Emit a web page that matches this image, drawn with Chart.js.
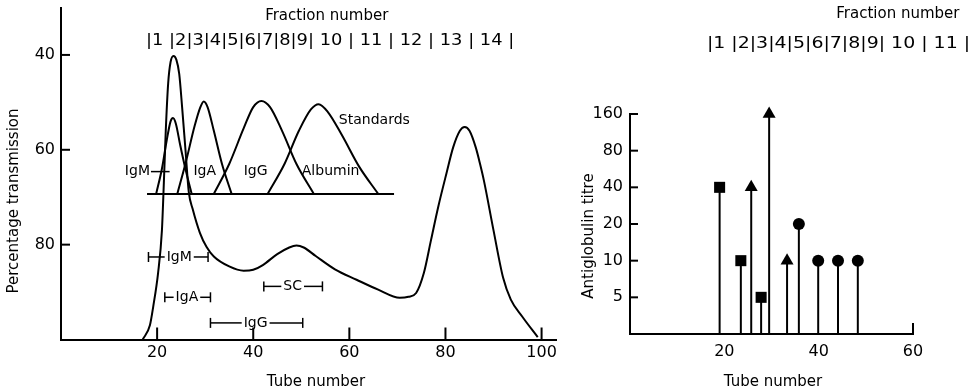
<!DOCTYPE html>
<html>
<head>
<meta charset="utf-8">
<script src="https://cdn.jsdelivr.net/npm/chart.js@4.4.0/dist/chart.umd.min.js"></script>
<style>
  body { margin: 0; background: #fff; }
  #wrap { position: relative; width: 972px; height: 392px; }
  canvas { position: absolute; top: 0; }
  #left { left: 0; }
  #right { left: 560px; }
</style>
</head>
<body>
<div id="wrap">
  <canvas id="left" width="560" height="392"></canvas>
  <canvas id="right" width="412" height="392"></canvas>
</div>
<script>
// ---- left panel: elution profile (tube number vs % transmission) ----
const profileTube  = [17, 18.5, 19.2, 20.2, 21, 21.4, 21.8, 22.3, 22.8, 23.4, 24, 24.6, 25.2, 25.9, 26.6, 27.4, 28.9, 30.3, 31.8, 35, 38, 40, 42, 45, 47.5, 49, 50.5, 53, 57, 61.5, 66, 70.5, 72.3, 73.9, 75.5, 77, 78.5, 80.2, 81.6, 83, 84, 85, 86.3, 87.2, 88, 90, 92, 93.6, 96, 99.2]
const profileTrans = [100, 97, 93, 86, 77, 67, 56, 46, 41.5, 40.2, 41, 44, 51, 60, 69, 72.5, 77.5, 80.5, 82.5, 84.6, 85.5, 85.3, 84.3, 82, 80.6, 80.2, 80.6, 82.4, 85.2, 87.4, 89.5, 91.2, 91, 90.2, 86, 79, 72, 65, 59.5, 56, 55.2, 56, 59.5, 63, 66.5, 77, 87, 91.6, 95.2, 99.5]

// standards (run separately, drawn on their own baseline)
const stdBase = 69.3
const stdBaseFrom = 17.9
const stdBaseTo = 69.3
const igmStdTube  = [19.8, 21, 22, 22.8, 23.3, 23.9, 24.8, 26, 27.2]
const igmStdTrans = [69.3, 64, 58, 54, 53.3, 54.5, 59, 64.5, 69.3]
const igaStdTube  = [24.2, 26, 27.8, 29, 29.7, 30.5, 31.8, 33.5, 35.5]
const igaStdTrans = [69.3, 62.5, 55, 51, 49.8, 51, 56, 63, 69.3]
const iggStdTube  = [31.8, 35, 38, 40, 41.7, 43.5, 46, 49, 52.6]
const iggStdTrans = [69.3, 63, 55.5, 51, 49.7, 51, 56, 63, 69.3]
const albStdTube  = [43, 46.5, 49.5, 52, 53.6, 55.5, 58.5, 62, 66]
const albStdTrans = [69.3, 63, 56, 51.5, 50.4, 52, 57, 63.5, 69.3]

const stdNames = ['IgM', 'IgA', 'IgG', 'Albumin']
const stdLabelTube = [15.9, 29.9, 40.5, 56.1]
const stdLabelTrans = 64.6

// ranges where each protein was found
const rangeNames = ['IgM', 'IgA', 'SC', 'IgG']
const rangeFrom  = [18.2, 21.6, 42.2, 31.1]
const rangeTo    = [30.6, 31.1, 54.4, 50.3]
const rangeLevel = [82.6, 91.1, 88.8, 96.5]
const rangeText  = [24.6, 26.2, 48.2, 40.5]

const leftXTicks = [20, 40, 60, 80, 100]
const leftYTicks = [40, 60, 80]

// ---- right panel: antiglobulin titre per tube ----
const squareTube = [19, 23.5, 27.8]
const squareTitre = [40, 10, 5]
const triTube = [25.7, 29.5, 33.3]
const triTitre = [40, 160, 10]
const dotTube = [35.8, 39.9, 44.1, 48.3]
const dotTitre = [20, 10, 10, 10]

const rightXTicks = [20, 40, 60]
const rightYTicks = [5, 10, 20, 40, 80, 160]

const fractionRowLeft = '|1 |2|3|4|5|6|7|8|9| 10 | 11 | 12 | 13 | 14 |'
const fractionRowRight = '|1 |2|3|4|5|6|7|8|9| 10 | 11 |'

const FONT = 'DejaVu Sans'

function pts(xs, ys) {
  return xs.map((x, i) => ({ x: x, y: ys[i] }))
}

function line(ctx, x1, y1, x2, y2) {
  ctx.beginPath()
  ctx.moveTo(x1, y1)
  ctx.lineTo(x2, y2)
  ctx.stroke()
}

// draw a string stretched between two x positions
function fitText(ctx, text, x1, x2, y) {
  let w = ctx.measureText(text).width
  ctx.save()
  ctx.translate(x1, y)
  ctx.scale((x2 - x1) / w, 1)
  ctx.textAlign = 'left'
  ctx.fillText(text, 0, 0)
  ctx.restore()
}

// no extra room for end labels, the chart area is set by padding
function noPad(s) {
  s.paddingTop = 0
  s.paddingBottom = 0
  s.paddingLeft = 0
  s.paddingRight = 0
}

const inwardTicks = {
  id: 'inwardTicks',
  afterDraw(chart, args, opts) {
    const ctx = chart.ctx
    const area = chart.chartArea
    ctx.save()
    ctx.strokeStyle = '#000'
    ctx.lineWidth = 2
    opts.x.forEach(v => {
      let px = chart.scales.x.getPixelForValue(v)
      line(ctx, px, area.bottom, px, area.bottom - opts.xLen)
    })
    opts.y.forEach(v => {
      let py = chart.scales.y.getPixelForValue(v)
      line(ctx, area.left - 1, py, area.left + opts.yLen, py)
    })
    ctx.restore()
  }
}

const leftNotes = {
  id: 'leftNotes',
  afterDraw(chart) {
    const ctx = chart.ctx
    const xs = chart.scales.x, ys = chart.scales.y
    ctx.save()
    ctx.fillStyle = '#000'
    ctx.strokeStyle = '#000'
    ctx.textBaseline = 'middle'

    // standards labels
    ctx.font = '14px ' + FONT
    ctx.textAlign = 'center'
    stdNames.forEach((n, i) => {
      ctx.fillText(n, xs.getPixelForValue(stdLabelTube[i]), ys.getPixelForValue(stdLabelTrans))
    })
    ctx.lineWidth = 1.5
    let igmW = ctx.measureText('IgM').width
    let ly = ys.getPixelForValue(stdLabelTrans)
    line(ctx, xs.getPixelForValue(stdLabelTube[0]) + igmW / 2 + 1, ly, xs.getPixelForValue(22.6), ly)
    ctx.fillText('Standards', xs.getPixelForValue(65.2), ys.getPixelForValue(53.7))

    // elution ranges
    rangeNames.forEach((n, i) => {
      let x1 = xs.getPixelForValue(rangeFrom[i])
      let x2 = xs.getPixelForValue(rangeTo[i])
      let y = ys.getPixelForValue(rangeLevel[i])
      let tx = xs.getPixelForValue(rangeText[i])
      let tw = ctx.measureText(n).width
      line(ctx, x1, y, tx - tw / 2 - 2, y)
      line(ctx, tx + tw / 2 + 2, y, x2, y)
      line(ctx, x1, y - 5, x1, y + 5)
      line(ctx, x2, y - 5, x2, y + 5)
      ctx.fillText(n, tx, y)
    })

    // fraction numbers
    ctx.font = '15px ' + FONT
    ctx.fillText('Fraction number', xs.getPixelForValue(55.3), 16)
    ctx.font = '16px ' + FONT
    fitText(ctx, fractionRowLeft, xs.getPixelForValue(17.7), xs.getPixelForValue(94.3), 41)

    // axis titles
    ctx.font = '15px ' + FONT
    ctx.textAlign = 'center'
    ctx.fillText('Tube number', 316, 382)
    ctx.translate(14, 201)
    ctx.rotate(-Math.PI / 2)
    ctx.fillText('Percentage transmission', 0, 0)
    ctx.restore()
  }
}

const stems = {
  id: 'stems',
  beforeDatasetsDraw(chart) {
    const ctx = chart.ctx
    const bottom = chart.chartArea.bottom
    ctx.save()
    ctx.strokeStyle = '#000'
    ctx.lineWidth = 2
    chart.data.datasets.forEach((ds, i) => {
      chart.getDatasetMeta(i).data.forEach(el => {
        line(ctx, el.x, el.y, el.x, bottom)
      })
    })
    ctx.restore()
  }
}

const rightNotes = {
  id: 'rightNotes',
  afterDraw(chart) {
    const ctx = chart.ctx
    const xs = chart.scales.x
    ctx.save()
    ctx.fillStyle = '#000'
    ctx.textBaseline = 'middle'
    ctx.textAlign = 'center'
    ctx.font = '15px ' + FONT
    ctx.fillText('Fraction number', xs.getPixelForValue(56.8), 14)
    ctx.font = '16px ' + FONT
    fitText(ctx, fractionRowRight, xs.getPixelForValue(16.3), xs.getPixelForValue(72.1), 44)
    ctx.font = '15px ' + FONT
    ctx.fillText('Tube number', 213, 382)
    ctx.translate(29, 236)
    ctx.rotate(-Math.PI / 2)
    ctx.fillText('Antiglobulin titre', 0, 0)
    ctx.restore()
  }
}

function curve(xs, ys) {
  return {
    data: pts(xs, ys),
    showLine: true,
    borderColor: '#000',
    borderWidth: 2,
    pointRadius: 0,
    cubicInterpolationMode: 'monotone',
    clip: false
  }
}

const tickFont = { family: FONT, size: 16 }

new Chart(document.getElementById('left'), {
  type: 'scatter',
  data: {
    datasets: [
      curve(profileTube, profileTrans),
      curve(igmStdTube, igmStdTrans),
      curve(igaStdTube, igaStdTrans),
      curve(iggStdTube, iggStdTrans),
      curve(albStdTube, albStdTrans),
      curve([stdBaseFrom, stdBaseTo], [stdBase, stdBase])
    ]
  },
  options: {
    responsive: false,
    animation: false,
    devicePixelRatio: 1,
    layout: { padding: { top: 7.5, right: 4, left: 0, bottom: 0 } },
    plugins: {
      legend: { display: false },
      tooltip: { enabled: false },
      inwardTicks: { x: leftXTicks, y: leftYTicks, xLen: 12, yLen: 9 }
    },
    scales: {
      x: {
        type: 'linear', min: 0, max: 103,
        afterBuildTicks: s => { s.ticks = leftXTicks.map(v => ({ value: v })) },
        afterFit: s => { s.height = 52.5; noPad(s) },
        grid: { display: false, drawTicks: false },
        border: { display: true, color: '#000', width: 2 },
        ticks: { color: '#000', font: tickFont, padding: 4, maxRotation: 0 }
      },
      y: {
        type: 'linear', min: 30, max: 100, reverse: true,
        afterBuildTicks: s => { s.ticks = leftYTicks.map(v => ({ value: v })) },
        afterFit: s => { s.width = 61; noPad(s) },
        grid: { display: false, drawTicks: false },
        border: { display: true, color: '#000', width: 2 },
        ticks: { color: '#000', font: tickFont, padding: 6 }
      }
    }
  },
  plugins: [inwardTicks, leftNotes]
})

function markers(xs, ys, style, r) {
  return {
    data: pts(xs, ys),
    pointStyle: style,
    pointRadius: r,
    backgroundColor: '#000',
    borderColor: '#000',
    borderWidth: 0,
    clip: false
  }
}

new Chart(document.getElementById('right'), {
  type: 'scatter',
  data: {
    datasets: [
      markers(squareTube, squareTitre, 'rect', 7.8),
      markers(triTube, triTitre, 'triangle', 7.5),
      markers(dotTube, dotTitre, 'circle', 6)
    ]
  },
  options: {
    responsive: false,
    animation: false,
    devicePixelRatio: 1,
    layout: { padding: { top: 114, right: 59, left: 0, bottom: 0 } },
    plugins: {
      legend: { display: false },
      tooltip: { enabled: false },
      inwardTicks: { x: [60], y: rightYTicks, xLen: 11, yLen: 8 }
    },
    scales: {
      x: {
        type: 'linear', min: 0, max: 60,
        afterBuildTicks: s => { s.ticks = rightXTicks.map(v => ({ value: v })) },
        afterFit: s => { s.height = 58; noPad(s) },
        grid: { display: false, drawTicks: false },
        border: { display: true, color: '#000', width: 2 },
        ticks: { color: '#000', font: tickFont, padding: 8, maxRotation: 0 }
      },
      y: {
        type: 'logarithmic', min: 2.5, max: 160,
        afterBuildTicks: s => { s.ticks = rightYTicks.map(v => ({ value: v })) },
        afterFit: s => { s.width = 70; noPad(s) },
        grid: { display: false, drawTicks: false },
        border: { display: true, color: '#000', width: 2 },
        ticks: { color: '#000', font: tickFont, padding: 7, callback: v => String(v) }
      }
    }
  },
  plugins: [stems, inwardTicks, rightNotes]
})
</script>
</body>
</html>
